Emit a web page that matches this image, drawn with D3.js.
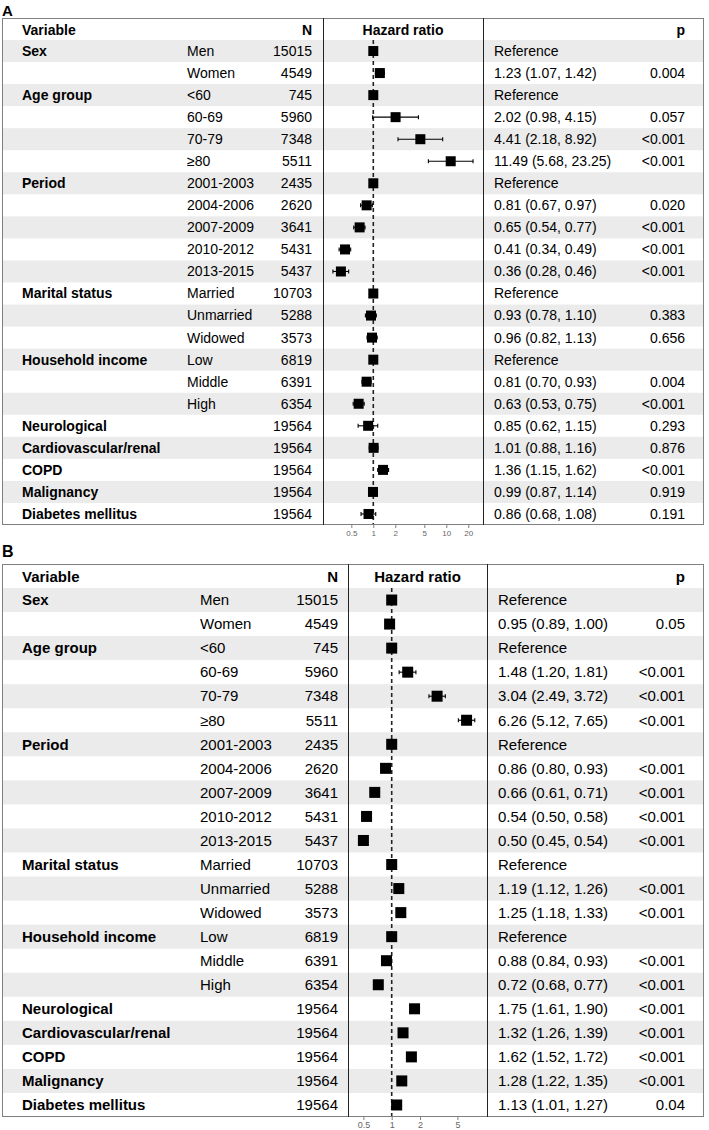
<!DOCTYPE html>
<html>
<head>
<meta charset="utf-8">
<script src="https://cdn.jsdelivr.net/npm/d3@7"></script>
<style>
body { margin: 0; background: #fff; }
svg { display: block; font-family: "Liberation Sans", Arial, sans-serif; }
</style>
</head>
<body>
<div id="chart"></div>
<script>
// row labels, shared by both panels
const variables = ["Sex", "", "Age group", "", "", "", "Period", "", "", "", "", "Marital status", "", "",
    "Household income", "", "", "Neurological", "Cardiovascular/renal", "COPD", "Malignancy", "Diabetes mellitus"];
const subgroups = ["Men", "Women", "<60", "60-69", "70-79", "≥80", "2001-2003", "2004-2006", "2007-2009",
    "2010-2012", "2013-2015", "Married", "Unmarried", "Widowed", "Low", "Middle", "High", "", "", "", "", ""];
const counts = [15015, 4549, 745, 5960, 7348, 5511, 2435, 2620, 3641, 5431, 5437, 10703, 5288, 3573,
    6819, 6391, 6354, 19564, 19564, 19564, 19564, 19564];

// panel A : hazard ratio, 95% CI and p (null CI = reference)
const hrA = [1, 1.23, 1, 2.02, 4.41, 11.49, 1, 0.81, 0.65, 0.41, 0.36, 1, 0.93, 0.96, 1, 0.81, 0.63,
    0.85, 1.01, 1.36, 0.99, 0.86];
const lowA = [null, 1.07, null, 0.98, 2.18, 5.68, null, 0.67, 0.54, 0.34, 0.28, null, 0.78, 0.82, null, 0.70, 0.53,
    0.62, 0.88, 1.15, 0.87, 0.68];
const highA = [null, 1.42, null, 4.15, 8.92, 23.25, null, 0.97, 0.77, 0.49, 0.46, null, 1.10, 1.13, null, 0.93, 0.75,
    1.15, 1.16, 1.62, 1.14, 1.08];
const pA = ["", "0.004", "", "0.057", "<0.001", "<0.001", "", "0.020", "<0.001", "<0.001", "<0.001", "", "0.383", "0.656",
    "", "0.004", "<0.001", "0.293", "0.876", "<0.001", "0.919", "0.191"];
const ticksA = [0.5, 1, 2, 5, 10, 20];

// panel B
const hrB = [1, 0.95, 1, 1.48, 3.04, 6.26, 1, 0.86, 0.66, 0.54, 0.50, 1, 1.19, 1.25, 1, 0.88, 0.72,
    1.75, 1.32, 1.62, 1.28, 1.13];
const lowB = [null, 0.89, null, 1.20, 2.49, 5.12, null, 0.80, 0.61, 0.50, 0.45, null, 1.12, 1.18, null, 0.84, 0.68,
    1.61, 1.26, 1.52, 1.22, 1.01];
const highB = [null, 1.00, null, 1.81, 3.72, 7.65, null, 0.93, 0.71, 0.58, 0.54, null, 1.26, 1.33, null, 0.93, 0.77,
    1.90, 1.39, 1.72, 1.35, 1.27];
const pB = ["", "0.05", "", "<0.001", "<0.001", "<0.001", "", "<0.001", "<0.001", "<0.001", "<0.001", "", "<0.001", "<0.001",
    "", "<0.001", "<0.001", "<0.001", "<0.001", "<0.001", "<0.001", "0.04"];
const ticksB = [0.5, 1, 2, 5];

const width = 709; const height = 1130;

// layout of each panel
const layoutA = {label: "A", labelY: 11, top: 18, headH: 22, bottom: 525, left: 2, right: 704,
    varX: 22, subX: 187, nX: 312, div1: 323, div2: 483, ciX: 494, pX: 685,
    x1: 373.3, decade: 73, font: 14, tickFont: 8, box: 10, cap: 4};
const layoutB = {label: "B", labelY: 551, top: 564, headH: 24, bottom: 1117, left: 2, right: 704,
    varX: 22, subX: 200, nX: 338, div1: 348, div2: 487, ciX: 498, pX: 685,
    x1: 391.7, decade: 94, font: 15, tickFont: 9, box: 11, cap: 4};

const svg = d3.select("#chart").append("svg")
    .attr("width", width)
    .attr("height", height);

function drawPanel(cfg, hr, low, high, p, ticks) {
    const g = svg.append("g");
    const rows = hr.map((d, i) => ({i: i, variable: variables[i], sub: subgroups[i], n: counts[i],
        hr: d, low: low[i], high: high[i], p: p[i]}));

    const y = d3.scaleBand()
        .domain(d3.range(rows.length))
        .range([cfg.top + cfg.headH, cfg.bottom]);
    const x = d3.scaleLog()
        .domain([1, 10])
        .range([cfg.x1, cfg.x1 + cfg.decade]);

    // panel letter
    g.append("text")
        .attr("x", cfg.left)
        .attr("y", cfg.labelY)
        .attr("dy", "0.35em")
        .attr("font-weight", "bold")
        .attr("font-size", cfg.font + 1)
        .text(cfg.label);

    // alternating row bands
    g.selectAll("rect.band")
        .data(rows.filter(d => d.i % 2 == 0))
        .enter().append("rect")
            .attr("class", "band")
            .attr("x", cfg.left)
            .attr("y", d => y(d.i))
            .attr("width", cfg.right - cfg.left)
            .attr("height", y.bandwidth())
            .attr("fill", "#ebebeb");

    // header
    const headY = cfg.top + cfg.headH / 2 + 1;
    const head = [
        {t: "Variable", x: cfg.varX, anchor: "start"},
        {t: "N", x: cfg.nX, anchor: "end"},
        {t: "Hazard ratio", x: (cfg.div1 + cfg.div2) / 2, anchor: "middle"},
        {t: "p", x: cfg.pX, anchor: "end"}
    ];
    g.selectAll("text.head")
        .data(head)
        .enter().append("text")
            .attr("class", "head")
            .attr("x", d => d.x)
            .attr("y", headY)
            .attr("dy", "0.35em")
            .attr("text-anchor", d => d.anchor)
            .attr("font-weight", "bold")
            .attr("font-size", cfg.font)
            .attr("fill", "#000")
            .text(d => d.t);

    // table rows
    const row = g.selectAll("g.row")
        .data(rows)
        .enter().append("g")
            .attr("class", "row")
            .attr("transform", d => `translate(0, ${y(d.i) + y.bandwidth() / 2})`)
            .attr("font-size", cfg.font)
            .attr("fill", "#000");
    row.append("text")
        .attr("x", cfg.varX)
        .attr("dy", "0.35em")
        .attr("font-weight", "bold")
        .text(d => d.variable);
    row.append("text")
        .attr("x", cfg.subX)
        .attr("dy", "0.35em")
        .text(d => d.sub);
    row.append("text")
        .attr("x", cfg.nX)
        .attr("dy", "0.35em")
        .attr("text-anchor", "end")
        .text(d => d.n);
    row.append("text")
        .attr("x", cfg.ciX)
        .attr("dy", "0.35em")
        .text(d => d.low == null ? "Reference"
            : `${d.hr.toFixed(2)} (${d.low.toFixed(2)}, ${d.high.toFixed(2)})`);
    row.append("text")
        .attr("x", cfg.pX)
        .attr("dy", "0.35em")
        .attr("text-anchor", "end")
        .text(d => d.p);

    // reference line at HR = 1
    g.append("line")
        .attr("x1", x(1)).attr("x2", x(1))
        .attr("y1", cfg.top + cfg.headH)
        .attr("y2", cfg.bottom)
        .attr("stroke", "#222")
        .attr("stroke-width", 1.6)
        .attr("stroke-dasharray", "4,3");

    // confidence intervals
    const ci = rows.filter(d => d.low != null);
    const bar = g.selectAll("g.ci")
        .data(ci)
        .enter().append("g")
            .attr("class", "ci")
            .attr("transform", d => `translate(0, ${y(d.i) + y.bandwidth() / 2})`)
            .attr("stroke", "#000")
            .attr("stroke-width", 1.1);
    bar.append("line")
        .attr("x1", d => x(d.low))
        .attr("x2", d => x(d.high));
    bar.append("line")
        .attr("x1", d => x(d.low)).attr("x2", d => x(d.low))
        .attr("y1", -cfg.cap / 2).attr("y2", cfg.cap / 2);
    bar.append("line")
        .attr("x1", d => x(d.high)).attr("x2", d => x(d.high))
        .attr("y1", -cfg.cap / 2).attr("y2", cfg.cap / 2);

    // point estimates
    g.selectAll("rect.pt")
        .data(rows)
        .enter().append("rect")
            .attr("class", "pt")
            .attr("x", d => x(d.hr) - cfg.box / 2)
            .attr("y", d => y(d.i) + y.bandwidth() / 2 - cfg.box / 2)
            .attr("width", cfg.box)
            .attr("height", cfg.box)
            .attr("fill", "#000");

    // frame and column dividers
    g.append("rect")
        .attr("x", cfg.left + 0.5)
        .attr("y", cfg.top + 0.5)
        .attr("width", cfg.right - cfg.left - 1)
        .attr("height", cfg.bottom - cfg.top - 1)
        .attr("fill", "none")
        .attr("stroke", "#808080")
        .attr("stroke-width", 1);
    g.selectAll("line.div")
        .data([cfg.div1, cfg.div2])
        .enter().append("line")
            .attr("class", "div")
            .attr("x1", d => d + 0.5).attr("x2", d => d + 0.5)
            .attr("y1", cfg.top)
            .attr("y2", cfg.bottom)
            .attr("stroke", "#222")
            .attr("stroke-width", 1);

    // log axis under the forest plot
    const axis = g.append("g")
        .attr("transform", `translate(0, ${cfg.bottom})`)
        .call(d3.axisBottom(x).tickValues(ticks).tickFormat(d => d).tickSize(3).tickPadding(2));
    axis.select(".domain").remove();
    axis.selectAll(".tick line").attr("stroke", "#7f7f7f");
    axis.selectAll(".tick text")
        .attr("fill", "#666")
        .attr("font-family", "'Liberation Sans', Arial, sans-serif")
        .attr("font-size", cfg.tickFont);
}

drawPanel(layoutA, hrA, lowA, highA, pA, ticksA);
drawPanel(layoutB, hrB, lowB, highB, pB, ticksB);
</script>
</body>
</html>
